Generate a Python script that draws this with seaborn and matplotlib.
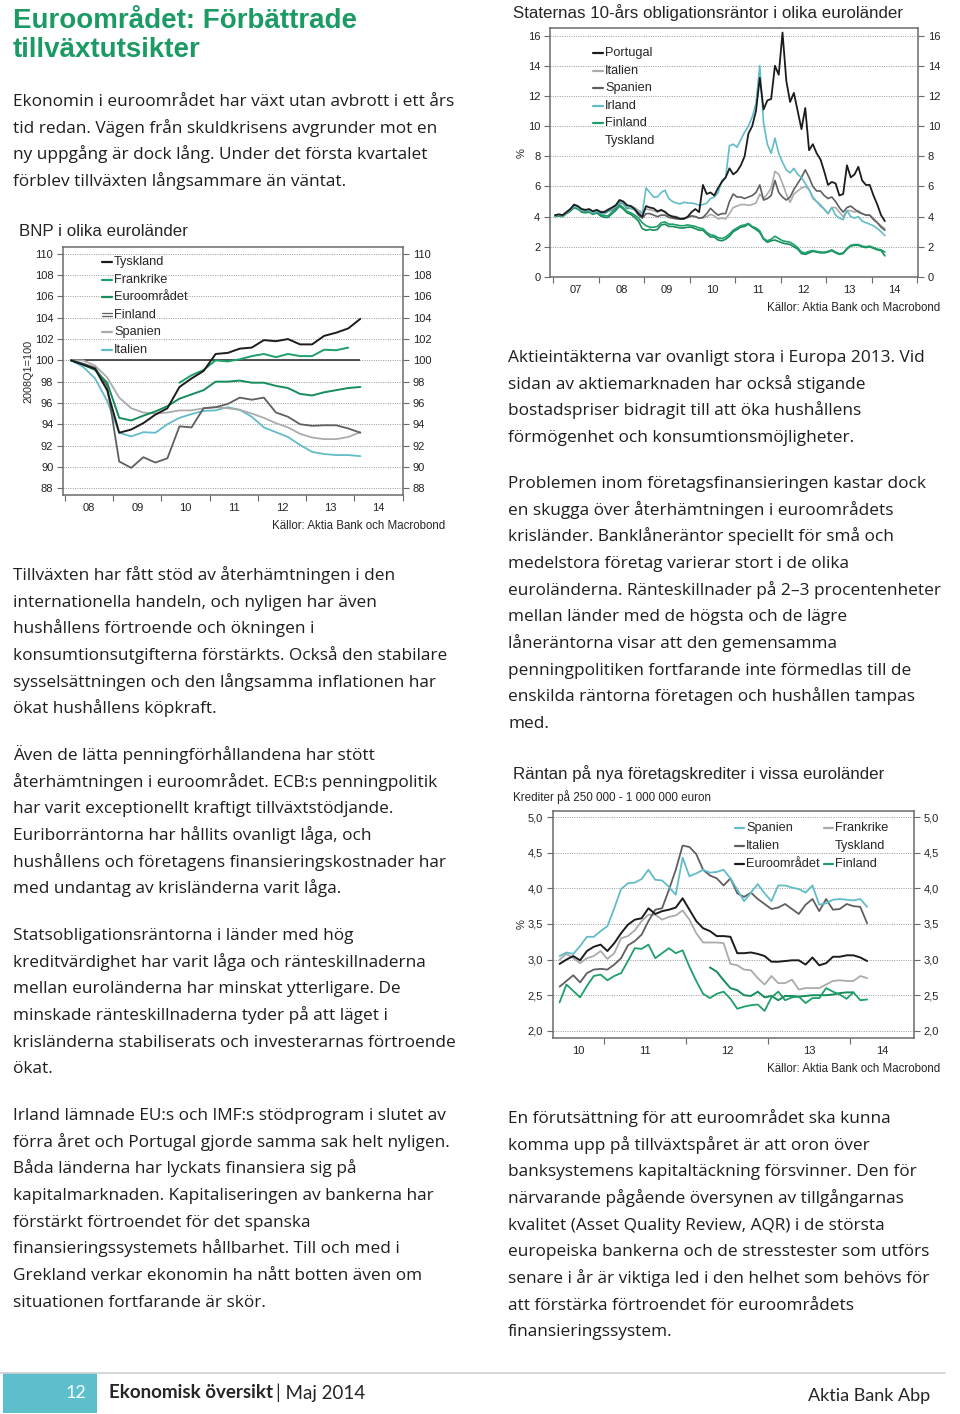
import matplotlib
matplotlib.use("Agg")
import matplotlib.pyplot as plt
from matplotlib.lines import Line2D
from matplotlib.patches import Rectangle
import pandas as pd
import seaborn as sns

W, H = 960, 1414

# ---------------------------
# Data: BNP i olika euroländer (2008Q1=100), kvartal
# ---------------------------
bnp_quarters = pd.period_range("2008Q1", "2014Q1", freq="Q")
bnp_tyskland = [100.0, 99.6, 99.2, 97.2, 93.2, 93.5, 94.1, 94.9, 95.5, 97.5, 98.3, 99.0, 100.6,
                100.7, 101.1, 101.2, 101.9, 101.8, 102.0, 101.5, 101.5, 102.3, 102.6, 103.0, 103.9]
bnp_frankrike_quarters = pd.period_range("2010Q2", "2013Q4", freq="Q")
bnp_frankrike = [97.9, 98.6, 99.1, 100.0, 99.9, 100.1, 100.4, 100.6, 100.3, 100.6, 100.4, 100.4,
                 101.0, 100.95, 101.2]
bnp_euro = [100.0, 99.6, 99.1, 97.9, 94.6, 94.35, 94.8, 95.2, 95.7, 96.4, 96.8, 97.2, 98.0,
            98.0, 98.1, 97.9, 97.9, 97.6, 97.4, 96.85, 96.7, 97.0, 97.2, 97.4, 97.5]
bnp_finland = [100.0, 99.7, 99.3, 97.6, 90.5, 89.9, 90.9, 90.4, 90.8, 93.8, 93.7, 95.5, 95.6,
               95.9, 96.5, 96.3, 96.5, 95.1, 94.7, 94.0, 93.85, 93.9, 93.9, 93.6, 93.2]
bnp_spanien = [100.0, 100.0, 99.5, 98.4, 96.5, 95.5, 95.1, 95.0, 95.1, 95.3, 95.3, 95.5, 95.6,
               95.5, 95.35, 95.0, 94.6, 94.1, 93.7, 93.1, 92.75, 92.6, 92.6, 92.8, 93.25]
bnp_italien = [100.0, 99.4, 98.3, 96.2, 93.2, 92.85, 93.25, 93.2, 94.0, 94.6, 94.95, 95.25, 95.3,
               95.6, 95.35, 94.7, 93.7, 93.25, 92.8, 92.05, 91.4, 91.2, 91.1, 91.1, 91.0]

# ---------------------------
# Data: 10-års obligationsräntor (%), månadsvis 2007-01 .. 2014-04
# ---------------------------
obl_months = pd.period_range("2007-01", "2014-04", freq="M")
obl_portugal = [4.10, 4.15, 4.10, 4.30, 4.50, 4.80, 4.70, 4.50, 4.45, 4.50, 4.35, 4.45,
                4.30, 4.30, 4.45, 4.60, 4.75, 5.10, 5.00, 4.75, 4.70, 4.50, 4.20, 4.00,
                4.70, 4.60, 4.55, 4.35, 4.45, 4.30, 4.10, 4.00, 3.95, 3.85, 3.85, 4.00,
                4.30, 4.50, 4.30, 6.10, 5.50, 5.60, 5.40, 5.90, 6.30, 6.60, 7.20, 6.80,
                7.00, 7.40, 8.00, 9.50, 10.00, 11.00, 13.20, 11.10, 11.70, 11.80, 14.00, 13.40,
                16.20, 13.00, 11.60, 12.20, 11.00, 9.80, 11.20, 8.40, 8.80, 8.20, 7.80, 7.00,
                6.10, 6.30, 6.20, 5.40, 5.50, 7.40, 6.60, 6.80, 7.30, 6.40, 6.10, 6.10,
                5.40, 4.80, 4.10, 3.70]
obl_italien = [4.10, 4.15, 4.10, 4.30, 4.50, 4.75, 4.65, 4.50, 4.45, 4.45, 4.35, 4.45,
               4.35, 4.35, 4.50, 4.60, 4.75, 5.10, 5.00, 4.75, 4.70, 4.60, 4.40, 4.30,
               4.50, 4.45, 4.40, 4.30, 4.40, 4.35, 4.10, 4.05, 4.00, 3.90, 3.90, 3.95,
               4.05, 4.00, 3.90, 3.90, 4.00, 4.15, 4.05, 3.85, 3.90, 3.85, 4.20, 4.60,
               4.70, 4.80, 4.80, 4.75, 4.80, 4.90, 5.50, 5.20, 5.50, 5.90, 7.00, 6.80,
               6.20, 5.50, 4.95, 5.50, 5.70, 5.90, 6.00, 5.80, 5.20, 5.00, 4.80, 4.50,
               4.20, 4.60, 4.60, 4.30, 4.00, 4.40, 4.40, 4.30, 4.40, 4.20, 4.10, 4.10,
               3.90, 3.60, 3.40, 3.20]
obl_spanien = [4.05, 4.10, 4.05, 4.25, 4.45, 4.70, 4.60, 4.40, 4.40, 4.40, 4.30, 4.35,
               4.25, 4.20, 4.35, 4.45, 4.60, 4.95, 4.85, 4.55, 4.55, 4.45, 4.10, 3.90,
               4.20, 4.20, 4.10, 4.00, 4.10, 4.10, 3.95, 3.90, 3.85, 3.85, 3.90, 3.95,
               4.05, 4.00, 3.90, 3.95, 4.20, 4.55, 4.30, 4.10, 4.20, 4.20, 5.00, 5.50,
               5.30, 5.30, 5.20, 5.30, 5.40, 5.60, 6.10, 5.10, 5.20, 5.40, 6.40, 5.60,
               5.30, 5.10, 5.30, 5.80, 6.20, 6.60, 7.10, 6.60, 6.00, 5.70, 5.70, 5.40,
               5.20, 5.30, 5.00, 4.60, 4.30, 4.60, 4.70, 4.50, 4.30, 4.20, 4.10, 4.10,
               3.80, 3.60, 3.30, 3.10]
obl_irland = [4.05, 4.10, 4.05, 4.25, 4.45, 4.70, 4.60, 4.40, 4.40, 4.40, 4.25, 4.35,
              4.25, 4.20, 4.35, 4.50, 4.65, 4.95, 4.90, 4.60, 4.55, 4.45, 4.30, 4.20,
              5.90, 5.60, 5.30, 5.30, 5.60, 5.75, 5.20, 5.00, 4.90, 4.85, 4.95, 4.90,
              4.90, 4.85, 4.75, 4.80, 4.90, 5.20, 5.30, 5.60, 6.40, 6.60, 8.70, 8.80,
              8.60, 9.10, 9.60, 10.00, 10.60, 11.50, 14.00, 10.20, 8.80, 8.20, 9.20, 8.20,
              7.60, 7.10, 6.90, 7.20, 6.80, 6.60, 6.20, 5.80, 5.30, 5.00, 4.70, 4.50,
              4.20, 4.60, 4.10, 3.90, 3.80, 4.40, 4.00, 3.90, 4.00, 3.70, 3.60, 3.50,
              3.40, 3.20, 3.00, 2.75]
obl_finland = [4.05, 4.10, 4.05, 4.25, 4.40, 4.65, 4.55, 4.35, 4.30, 4.35, 4.20, 4.30,
               4.15, 4.05, 4.05, 4.30, 4.50, 4.80, 4.60, 4.35, 4.25, 4.10, 3.90, 3.60,
               3.40, 3.30, 3.30, 3.35, 3.60, 3.65, 3.50, 3.50, 3.45, 3.40, 3.40, 3.45,
               3.40, 3.35, 3.25, 3.20, 2.95, 2.80, 2.75, 2.60, 2.55, 2.65, 2.85, 3.10,
               3.25, 3.40, 3.45, 3.55, 3.35, 3.25, 3.05, 2.55, 2.40, 2.50, 2.70, 2.55,
               2.40, 2.35, 2.30, 2.15, 1.95, 1.65, 1.60, 1.70, 1.75, 1.70, 1.65, 1.65,
               1.70, 1.80, 1.65, 1.55, 1.60, 1.90, 2.10, 2.15, 2.15, 2.05, 2.00, 2.05,
               1.95, 1.85, 1.80, 1.65]
obl_tyskland = [4.00, 4.05, 4.00, 4.20, 4.35, 4.60, 4.50, 4.30, 4.25, 4.30, 4.15, 4.25,
                4.05, 3.95, 3.95, 4.20, 4.40, 4.70, 4.50, 4.25, 4.15, 3.95, 3.70, 3.20,
                3.10, 3.15, 3.10, 3.15, 3.45, 3.50, 3.35, 3.35, 3.30, 3.25, 3.25, 3.30,
                3.30, 3.20, 3.10, 3.10, 2.85, 2.65, 2.65, 2.45, 2.40, 2.50, 2.70, 3.00,
                3.15, 3.30, 3.35, 3.50, 3.30, 3.15, 2.95, 2.50, 2.30, 2.40, 2.45, 2.35,
                2.25, 2.20, 2.15, 2.00, 1.85, 1.55, 1.50, 1.60, 1.70, 1.65, 1.60, 1.60,
                1.65, 1.75, 1.60, 1.50, 1.55, 1.85, 2.05, 2.10, 2.10, 2.00, 1.95, 2.00,
                1.90, 1.80, 1.75, 1.40]

# ---------------------------
# Data: Räntan på nya företagskrediter (%), månadsvis 2010-06 .. 2014-03
# ---------------------------
kred_months = pd.period_range("2010-06", "2014-03", freq="M")
kred_spanien = [3.05, 3.10, 3.08, 3.19, 3.32, 3.32, 3.40, 3.47, 3.72, 3.99, 4.07, 4.08, 4.13,
                4.26, 4.12, 4.11, 4.02, 3.91, 4.43, 4.17, 4.21, 4.26, 4.22, 4.23, 4.26, 4.14,
                3.98, 3.82, 3.94, 4.06, 3.93, 3.82, 4.04, 4.04, 4.01, 3.99, 3.94, 4.04, 3.77,
                3.79, 3.84, 3.85, 3.84, 3.83, 3.85, 3.74]
kred_italien = [2.62, 2.70, 2.78, 2.68, 2.81, 2.86, 2.87, 2.86, 2.93, 3.02, 3.20, 3.26, 3.35,
                3.54, 3.70, 3.72, 3.98, 4.26, 4.60, 4.58, 4.48, 4.26, 4.18, 4.14, 4.04, 4.14,
                3.93, 3.88, 3.94, 3.85, 3.78, 3.71, 3.73, 3.78, 3.71, 3.64, 3.77, 3.85, 3.68,
                3.85, 3.70, 3.71, 3.78, 3.75, 3.74, 3.51]
kred_euro = [2.94, 3.00, 3.05, 2.99, 3.12, 3.18, 3.21, 3.12, 3.23, 3.37, 3.49, 3.56, 3.58,
             3.72, 3.64, 3.68, 3.70, 3.73, 3.86, 3.70, 3.54, 3.44, 3.40, 3.33, 3.33, 3.32,
             3.09, 3.09, 3.10, 3.08, 3.05, 2.97, 2.97, 2.98, 2.99, 2.99, 2.93, 3.03, 2.92,
             2.95, 3.04, 3.04, 3.06, 3.06, 3.03, 2.98]
kred_frankrike = [3.00, 3.08, 3.02, 2.95, 3.02, 3.05, 3.12, 3.01, 3.09, 3.30, 3.33, 3.41, 3.54,
                  3.63, 3.63, 3.56, 3.60, 3.62, 3.69, 3.56, 3.37, 3.24, 3.24, 3.24, 3.23, 2.94,
                  2.92, 2.86, 2.85, 2.74, 2.65, 2.77, 2.67, 2.67, 2.72, 2.58, 2.60, 2.60, 2.60,
                  2.65, 2.70, 2.71, 2.70, 2.70, 2.77, 2.74]
kred_finland = [2.40, 2.65, 2.56, 2.47, 2.63, 2.77, 2.79, 2.71, 2.77, 2.81, 2.98, 3.16, 3.15,
                3.21, 3.02, 3.09, 3.16, 3.09, 3.13, 2.90, 2.70, 2.52, 2.46, 2.52, 2.55, 2.45,
                2.31, 2.34, 2.36, 2.37, 2.28, 2.47, 2.55, 2.43, 2.47, 2.48, 2.39, 2.46, 2.46,
                2.60, 2.55, 2.51, 2.45, 2.54, 2.43, 2.44]
kred_tyskland_months = pd.period_range("2012-04", "2014-01", freq="M")
kred_tyskland = [2.89, 2.83, 2.71, 2.60, 2.57, 2.50, 2.49, 2.55, 2.47, 2.49, 2.43, 2.49, 2.49,
                 2.48, 2.49, 2.50, 2.50, 2.50, 2.51, 2.53, 2.54, 2.54]

# ---------------------------
# Page text
# ---------------------------
TITLE = ["Euroområdet: Förbättrade", "tillväxtutsikter"]

left_blocks = [
    (100, ["Ekonomin i euroområdet har växt utan avbrott i ett års",
           "tid redan. Vägen från skuldkrisens avgrunder mot en",
           "ny uppgång är dock lång. Under det första kvartalet",
           "förblev tillväxten långsammare än väntat."]),
    (574, ["Tillväxten har fått stöd av återhämtningen i den",
           "internationella handeln, och nyligen har även",
           "hushållens förtroende och ökningen i",
           "konsumtionsutgifterna förstärkts. Också den stabilare",
           "sysselsättningen och den långsamma inflationen har",
           "ökat hushållens köpkraft."]),
    (754, ["Även de lätta penningförhållandena har stött",
           "återhämtningen i euroområdet. ECB:s penningpolitik",
           "har varit exceptionellt kraftigt tillväxtstödjande.",
           "Euriborräntorna har hållits ovanligt låga, och",
           "hushållens och företagens finansieringskostnader har",
           "med undantag av krisländerna varit låga."]),
    (934, ["Statsobligationsräntorna i länder med hög",
           "kreditvärdighet har varit låga och ränteskillnaderna",
           "mellan euroländerna har minskat ytterligare. De",
           "minskade ränteskillnaderna tyder på att läget i",
           "krisländerna stabiliserats och investerarnas förtroende",
           "ökat."]),
    (1114, ["Irland lämnade EU:s och IMF:s stödprogram i slutet av",
            "förra året och Portugal gjorde samma sak helt nyligen.",
            "Båda länderna har lyckats finansiera sig på",
            "kapitalmarknaden. Kapitaliseringen av bankerna har",
            "förstärkt förtroendet för det spanska",
            "finansieringssystemets hållbarhet. Till och med i",
            "Grekland verkar ekonomin ha nått botten även om",
            "situationen fortfarande är skör."]),
]
right_blocks = [
    (356, ["Aktieintäkterna var ovanligt stora i Europa 2013. Vid",
           "sidan av aktiemarknaden har också stigande",
           "bostadspriser bidragit till att öka hushållens",
           "förmögenhet och konsumtionsmöjligheter."]),
    (482, ["Problemen inom företagsfinansieringen kastar dock",
           "en skugga över återhämtningen i euroområdets",
           "krisländer. Banklåneräntor speciellt för små och",
           "medelstora företag varierar stort i de olika",
           "euroländerna. Ränteskillnader på 2–3 procentenheter",
           "mellan länder med de högsta och de lägre",
           "låneräntorna visar att den gemensamma",
           "penningpolitiken fortfarande inte förmedlas till de",
           "enskilda räntorna företagen och hushållen tampas",
           "med."]),
    (1117, ["En förutsättning för att euroområdet ska kunna",
            "komma upp på tillväxtspåret är att oron över",
            "banksystemens kapitaltäckning försvinner. Den för",
            "närvarande pågående översynen av tillgångarnas",
            "kvalitet (Asset Quality Review, AQR) i de största",
            "europeiska bankerna och de stresstester som utförs",
            "senare i år är viktiga led i den helhet som behövs för",
            "att förstärka förtroendet för euroområdets",
            "finansieringssystem."]),
]

# colours
BLACK = "#1c1c1c"
DGRAY = "#5f5f5f"
LGRAY = "#ababab"
TEAL = "#62bcc8"
GREEN = "#1f9f69"
GREEN2 = "#168d5b"
TITLE_GREEN = "#1b9b63"
FOOT_TEAL = "#5dbfcc"

SRC = "Källor: Aktia Bank och Macrobond"

# ---------------------------
# Setup
# ---------------------------
sns.set_theme(style="white")
plt.rcParams["font.family"] = ["Liberation Sans", "DejaVu Sans"]

fig = plt.figure(figsize=(9.6, 14.14), dpi=100)
fig.patch.set_facecolor("white")

BODY = ["Open Sans", "DejaVu Sans"]
FOOT = ["Lato", "DejaVu Sans"]
LINE_H = 26.65


def put(x, y, s, **kw):
    # place text with pixel coordinates (y from the top)
    return fig.text(x / W, 1 - y / H, s, **kw)


def px_axes(l, t, r, b):
    return fig.add_axes([l / W, 1 - b / H, (r - l) / W, (b - t) / H])


def legend_line(x0, x1, y, color, double=False):
    if double:
        for dy in (-1.6, 1.6):
            fig.add_artist(Line2D([x0 / W, x1 / W], [1 - (y + dy) / H] * 2, color=color, lw=0.9))
    else:
        fig.add_artist(Line2D([x0 / W, x1 / W], [1 - y / H] * 2, color=color, lw=1.6))


def dec_year(periods, per_year):
    if per_year == 4:
        return [p.year + (p.quarter - 0.5) / 4 for p in periods]
    return [p.year + (p.month - 0.5) / 12 for p in periods]


def style_chart(ax, xlim, ylim, yticks, ylabels, years):
    ax.set_xlim(xlim)
    ax.set_ylim(ylim)
    ax.set_xlabel("")
    ax.set_ylabel("")
    ax.set_yticks(yticks)
    ax.set_yticklabels(ylabels)
    ax.grid(axis="y", color="#9a9a9a", linestyle=(0, (1, 1.4)), lw=0.7)
    ax.set_axisbelow(True)
    for s in ax.spines.values():
        s.set_color("#6b6b6b")
        s.set_linewidth(1.1)
    ax.tick_params(axis="y", left=True, right=True, labelleft=True, labelright=True,
                   direction="out", length=4, width=0.8, color="#6b6b6b",
                   labelsize=8, pad=3, labelcolor="#222222")
    # year boundaries as tick marks, labels centred on each visible year
    bounds = [y for y in years + [years[-1] + 1] if xlim[0] <= y <= xlim[1]]
    ax.set_xticks(bounds)
    ax.set_xticklabels([])
    centers = [(max(y, xlim[0]) + min(y + 1, xlim[1])) / 2 for y in years]
    ax.set_xticks(centers, minor=True)
    ax.set_xticklabels([f"{y % 100:02d}" for y in years], minor=True)
    ax.tick_params(axis="x", which="major", bottom=True, direction="out", length=4,
                   width=0.8, color="#6b6b6b")
    ax.tick_params(axis="x", which="minor", bottom=True, length=0, labelsize=8, pad=6,
                   labelcolor="#222222")


# ---------------------------
# Title and body text (y = baseline in pixels)
# ---------------------------
put(13, 28, TITLE[0], fontsize=20, fontweight="bold", color=TITLE_GREEN, va="baseline")
put(13, 57, TITLE[1], fontsize=20, fontweight="bold", color=TITLE_GREEN, va="baseline")

for y0, lines in left_blocks:
    for i, line in enumerate(lines):
        put(13, y0 + 6 + i * LINE_H, line, fontsize=12.4, family=BODY, color="#1e1e1e",
            va="baseline")
for y0, lines in right_blocks:
    for i, line in enumerate(lines):
        put(508, y0 + 6 + i * LINE_H, line, fontsize=12.4, family=BODY, color="#1e1e1e",
            va="baseline")

# ---------------------------
# Chart 1: BNP i olika euroländer
# ---------------------------
ax1 = px_axes(63, 247, 403, 495)
qx = dec_year(bnp_quarters, 4)
ax1.hlines(bnp_tyskland[0], qx[0], qx[-1], color="#333333", lw=1.2)
sns.lineplot(x=qx, y=bnp_italien, ax=ax1, color=TEAL, lw=1.3)
sns.lineplot(x=qx, y=bnp_spanien, ax=ax1, color=LGRAY, lw=1.3)
sns.lineplot(x=qx, y=bnp_finland, ax=ax1, color=DGRAY, lw=1.3)
sns.lineplot(x=qx, y=bnp_euro, ax=ax1, color=GREEN2, lw=1.4)
sns.lineplot(x=dec_year(bnp_frankrike_quarters, 4), y=bnp_frankrike, ax=ax1, color=GREEN, lw=1.4)
sns.lineplot(x=qx, y=bnp_tyskland, ax=ax1, color=BLACK, lw=1.4)
style_chart(ax1, (2007.96, 2015.01), (87.35, 110.65), list(range(88, 111, 2)),
            [str(v) for v in range(88, 111, 2)], list(range(2008, 2015)))

put(19, 231, "BNP i olika euroländer", fontsize=12.2, va="center")
put(29, 371, "2008Q1=100", fontsize=7.8, rotation=90, va="center", ha="center")
put(445, 526, SRC, fontsize=8.3, ha="right", va="center")
leg1 = [("Tyskland", BLACK, False), ("Frankrike", GREEN, False), ("Euroområdet", GREEN2, False),
        ("Finland", DGRAY, True), ("Spanien", LGRAY, False), ("Italien", TEAL, False)]
for i, (name, col, dbl) in enumerate(leg1):
    yy = 262 + i * 17.6
    legend_line(102, 112, yy, col, dbl)
    put(114, yy, name, fontsize=9.2, va="center")

# ---------------------------
# Chart 2: 10-års obligationsräntor
# ---------------------------
ax2 = px_axes(550, 28, 918, 277)
mx = dec_year(obl_months, 12)
sns.lineplot(x=mx, y=obl_tyskland, ax=ax2, color=GREEN2, lw=1.2)
sns.lineplot(x=mx, y=obl_finland, ax=ax2, color=GREEN, lw=1.2)
sns.lineplot(x=mx, y=obl_italien, ax=ax2, color=LGRAY, lw=1.2)
sns.lineplot(x=mx, y=obl_spanien, ax=ax2, color=DGRAY, lw=1.2)
sns.lineplot(x=mx, y=obl_irland, ax=ax2, color=TEAL, lw=1.2)
sns.lineplot(x=mx, y=obl_portugal, ax=ax2, color=BLACK, lw=1.3)
style_chart(ax2, (2006.93, 2015.02), (0, 16.5), list(range(0, 17, 2)),
            [str(v) for v in range(0, 17, 2)], list(range(2007, 2015)))

put(513, 13, "Staternas 10-års obligationsräntor i olika euroländer", fontsize=12.2, va="center")
put(522, 153, "%", fontsize=8, rotation=90, va="center", ha="center")
put(940, 308, SRC, fontsize=8.3, ha="right", va="center")
leg2 = [("Portugal", BLACK), ("Italien", LGRAY), ("Spanien", DGRAY), ("Irland", TEAL),
        ("Finland", GREEN), ("Tyskland", None)]
for i, (name, col) in enumerate(leg2):
    yy = 53 + i * 17.6
    if col:
        legend_line(593, 603, yy, col)
    put(605, yy, name, fontsize=9.2, va="center")

# ---------------------------
# Chart 3: Räntan på nya företagskrediter
# ---------------------------
ax3 = px_axes(553, 811, 914, 1038)
kx = dec_year(kred_months, 12)
sns.lineplot(x=kx, y=kred_frankrike, ax=ax3, color=LGRAY, lw=1.3)
sns.lineplot(x=dec_year(kred_tyskland_months, 12), y=kred_tyskland, ax=ax3, color=GREEN2, lw=1.4)
sns.lineplot(x=kx, y=kred_finland, ax=ax3, color=GREEN, lw=1.3)
sns.lineplot(x=kx, y=kred_italien, ax=ax3, color=DGRAY, lw=1.3)
sns.lineplot(x=kx, y=kred_spanien, ax=ax3, color=TEAL, lw=1.3)
sns.lineplot(x=kx, y=kred_euro, ax=ax3, color=BLACK, lw=1.4)
k_ticks = [2.0, 2.5, 3.0, 3.5, 4.0, 4.5, 5.0]
style_chart(ax3, (2010.378, 2014.78), (1.9, 5.085), k_ticks,
            [f"{v:.1f}".replace(".", ",") for v in k_ticks], list(range(2010, 2015)))

put(513, 774, "Räntan på nya företagskrediter i vissa euroländer", fontsize=12.2, va="center")
put(513, 797, "Krediter på 250 000 - 1 000 000 euron", fontsize=8.4, va="center")
put(522, 924, "%", fontsize=8, rotation=90, va="center", ha="center")
put(940, 1069, SRC, fontsize=8.3, ha="right", va="center")
leg3 = [("Spanien", TEAL, 0, 0), ("Italien", DGRAY, 0, 1), ("Euroområdet", BLACK, 0, 2),
        ("Frankrike", LGRAY, 1, 0), ("Tyskland", None, 1, 1), ("Finland", GREEN, 1, 2)]
for name, col, c, r in leg3:
    yy = 828 + r * 17.8
    x0 = 735 if c == 0 else 824
    if col:
        legend_line(x0, x0 + 9, yy, col)
    put(x0 + 11, yy, name, fontsize=9.2, va="center")

# ---------------------------
# Footer
# ---------------------------
fig.add_artist(Line2D([0, 945 / W], [1 - 1373 / H] * 2, color="#d0d0d0", lw=1.2))
fig.add_artist(Rectangle((3 / W, 1 - 1413 / H), 94 / W, 40 / H, transform=fig.transFigure,
                         facecolor=FOOT_TEAL, edgecolor="none"))
put(86, 1393, "12", fontsize=13, color="white", ha="right", va="center", family=FOOT)
bold_txt = put(109, 1393, "Ekonomisk översikt", fontsize=13.5, fontweight="bold", va="center", family=FOOT)
# place "| Maj 2014" right after the bold part
renderer = fig.canvas.get_renderer()
bb = bold_txt.get_window_extent(renderer=renderer)
put(bb.x1 + 3, 1393, "| Maj 2014", fontsize=13.5, va="center", family=FOOT)
put(930, 1396, "Aktia Bank Abp", fontsize=13, ha="right", va="center", family=FOOT)

plt.savefig("out.png", dpi=100)
